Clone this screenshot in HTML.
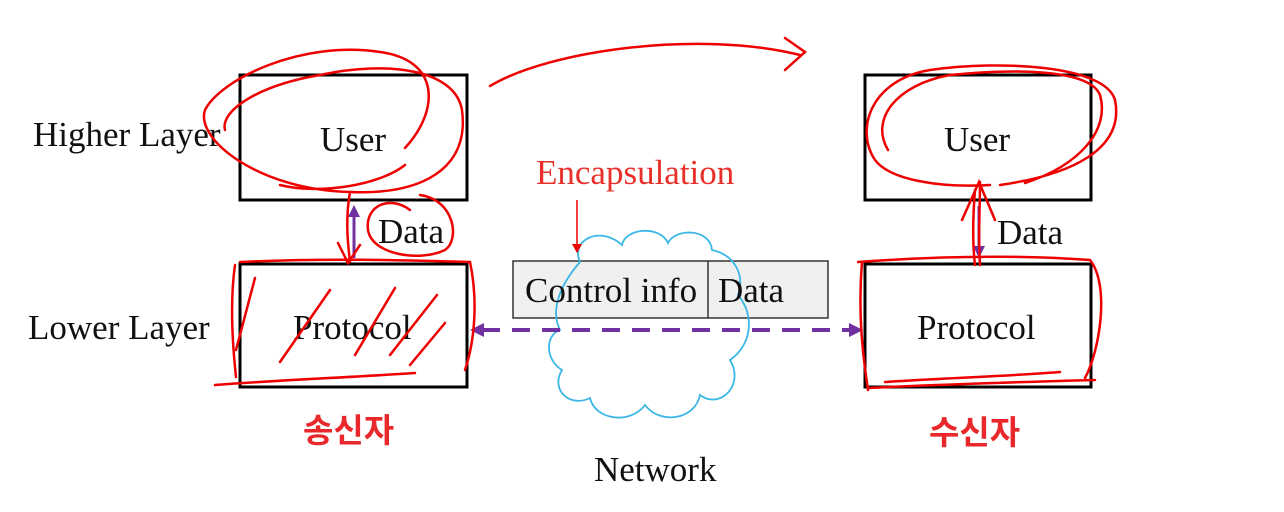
<!DOCTYPE html>
<html><head><meta charset="utf-8"><style>
html,body{margin:0;padding:0;background:#fff;}
svg{display:block}
text{font-family:"Liberation Serif",serif;}
</style></head><body>
<svg width="1284" height="512" viewBox="0 0 1284 512" xmlns="http://www.w3.org/2000/svg">
<defs>
<marker id="ra" markerWidth="10" markerHeight="10" refX="8" refY="5" orient="auto" markerUnits="userSpaceOnUse"><path d="M0,0 L9,5 L0,10 z" fill="#e00"/></marker>
</defs>
<g fill="none" stroke="#000" stroke-width="3">
<rect x="240" y="75" width="227" height="125"/>
<rect x="240" y="264" width="227" height="123"/>
<rect x="865" y="75" width="226" height="125"/>
<rect x="865" y="264" width="226" height="123"/>
</g>
<line x1="354" y1="258" x2="354" y2="215" stroke="#7030a0" stroke-width="3"/>
<path d="M354,205 L348,217 L360,217 Z" fill="#7030a0"/>
<line x1="979" y1="206" x2="979" y2="250" stroke="#7030a0" stroke-width="3"/>
<path d="M979,258 L973,246 L985,246 Z" fill="#7030a0"/>
<rect x="513" y="261" width="315" height="57" fill="#f0f0f0" stroke="#333" stroke-width="1.5"/>
<line x1="708" y1="261" x2="708" y2="318" stroke="#333" stroke-width="1.5"/>
<path d="M580,262 C570,240 600,225 622,245 C625,228 660,225 668,243 C675,228 710,228 712,250 C735,255 745,275 738,295 C755,315 752,345 730,360 C745,385 720,410 700,395 C695,420 660,425 645,405 C630,425 595,420 590,398 C570,408 550,390 562,370 C545,360 545,335 560,330 C550,310 560,285 580,262 Z" fill="none" stroke="#3bb7e6" stroke-width="1.8"/>
<line x1="482" y1="330" x2="852" y2="330" stroke="#7030a0" stroke-width="4" stroke-dasharray="18,12"/>
<path d="M470,330 L484,323 L484,337 Z" fill="#7030a0"/>
<path d="M863,330 L849,323 L849,337 Z" fill="#7030a0"/>
<g font-size="35" fill="#111">
<text x="33" y="146">Higher Layer</text>
<text x="28" y="339">Lower Layer</text>
<text x="320" y="151">User</text>
<text x="944" y="151">User</text>
<text x="293" y="339">Protocol</text>
<text x="917" y="339">Protocol</text>
<text x="378" y="243">Data</text>
<text x="997" y="244">Data</text>
<text x="525" y="302">Control info</text>
<text x="718" y="302">Data</text>
<text x="594" y="481">Network</text>
</g>
<text x="536" y="184" font-size="35" fill="#e8302a">Encapsulation</text>
<line x1="577" y1="200" x2="577" y2="252" stroke="#e00" stroke-width="1.5" marker-end="url(#ra)"/>
<text x="303" y="442" font-size="33" font-weight="bold" fill="#e8282a" style="font-family:'Liberation Sans','Noto Sans CJK KR',sans-serif">송신자</text>
<text x="929" y="444" font-size="33" font-weight="bold" fill="#e8282a" style="font-family:'Liberation Sans','Noto Sans CJK KR',sans-serif">수신자</text>
<g fill="none" stroke="#e00" stroke-width="2.5" stroke-linecap="round">
<path d="M405,148 C440,110 440,60 380,52 C300,40 220,80 205,110 C195,140 260,190 350,192 C420,195 470,170 462,110 C455,70 390,60 320,75 C260,85 220,110 225,130"/>
<path d="M405,165 C380,185 320,195 280,185"/>
<path d="M350,192 C345,220 348,245 350,262 M338,243 L348,263 L360,245"/>
<path d="M410,210 C390,195 365,205 368,230 C372,255 420,262 445,250 C460,240 455,200 420,195"/>
<path d="M235,265 C230,300 232,340 236,377 M240,262 C320,258 400,260 470,262 C478,300 475,340 465,370 M215,385 C280,380 340,378 415,373"/>
<path d="M255,278 L236,350 M330,290 L280,362 M395,288 L355,355 M437,295 L390,355 M445,323 L410,365"/>
<path d="M490,86 C550,50 700,30 800,55 M785,38 L805,52 L785,70"/>
<path d="M1000,185 C1070,175 1125,150 1115,100 C1105,65 1000,60 930,70 C870,80 855,130 875,160 C890,180 940,188 990,185 M1025,183 C1080,165 1110,130 1100,95 C1090,70 1020,68 950,75 C895,85 870,120 888,150"/>
<path d="M980,265 C978,235 980,210 980,182 M962,220 L979,182 L995,220 M975,265 C972,240 973,215 975,190"/>
<path d="M858,262 C940,256 1020,255 1090,260 C1110,285 1100,350 1085,378 M862,262 C858,310 862,350 868,390 M868,388 C950,384 1020,382 1095,380 M885,382 C950,378 1010,376 1060,372"/>
</g>
</svg>
</body></html>
